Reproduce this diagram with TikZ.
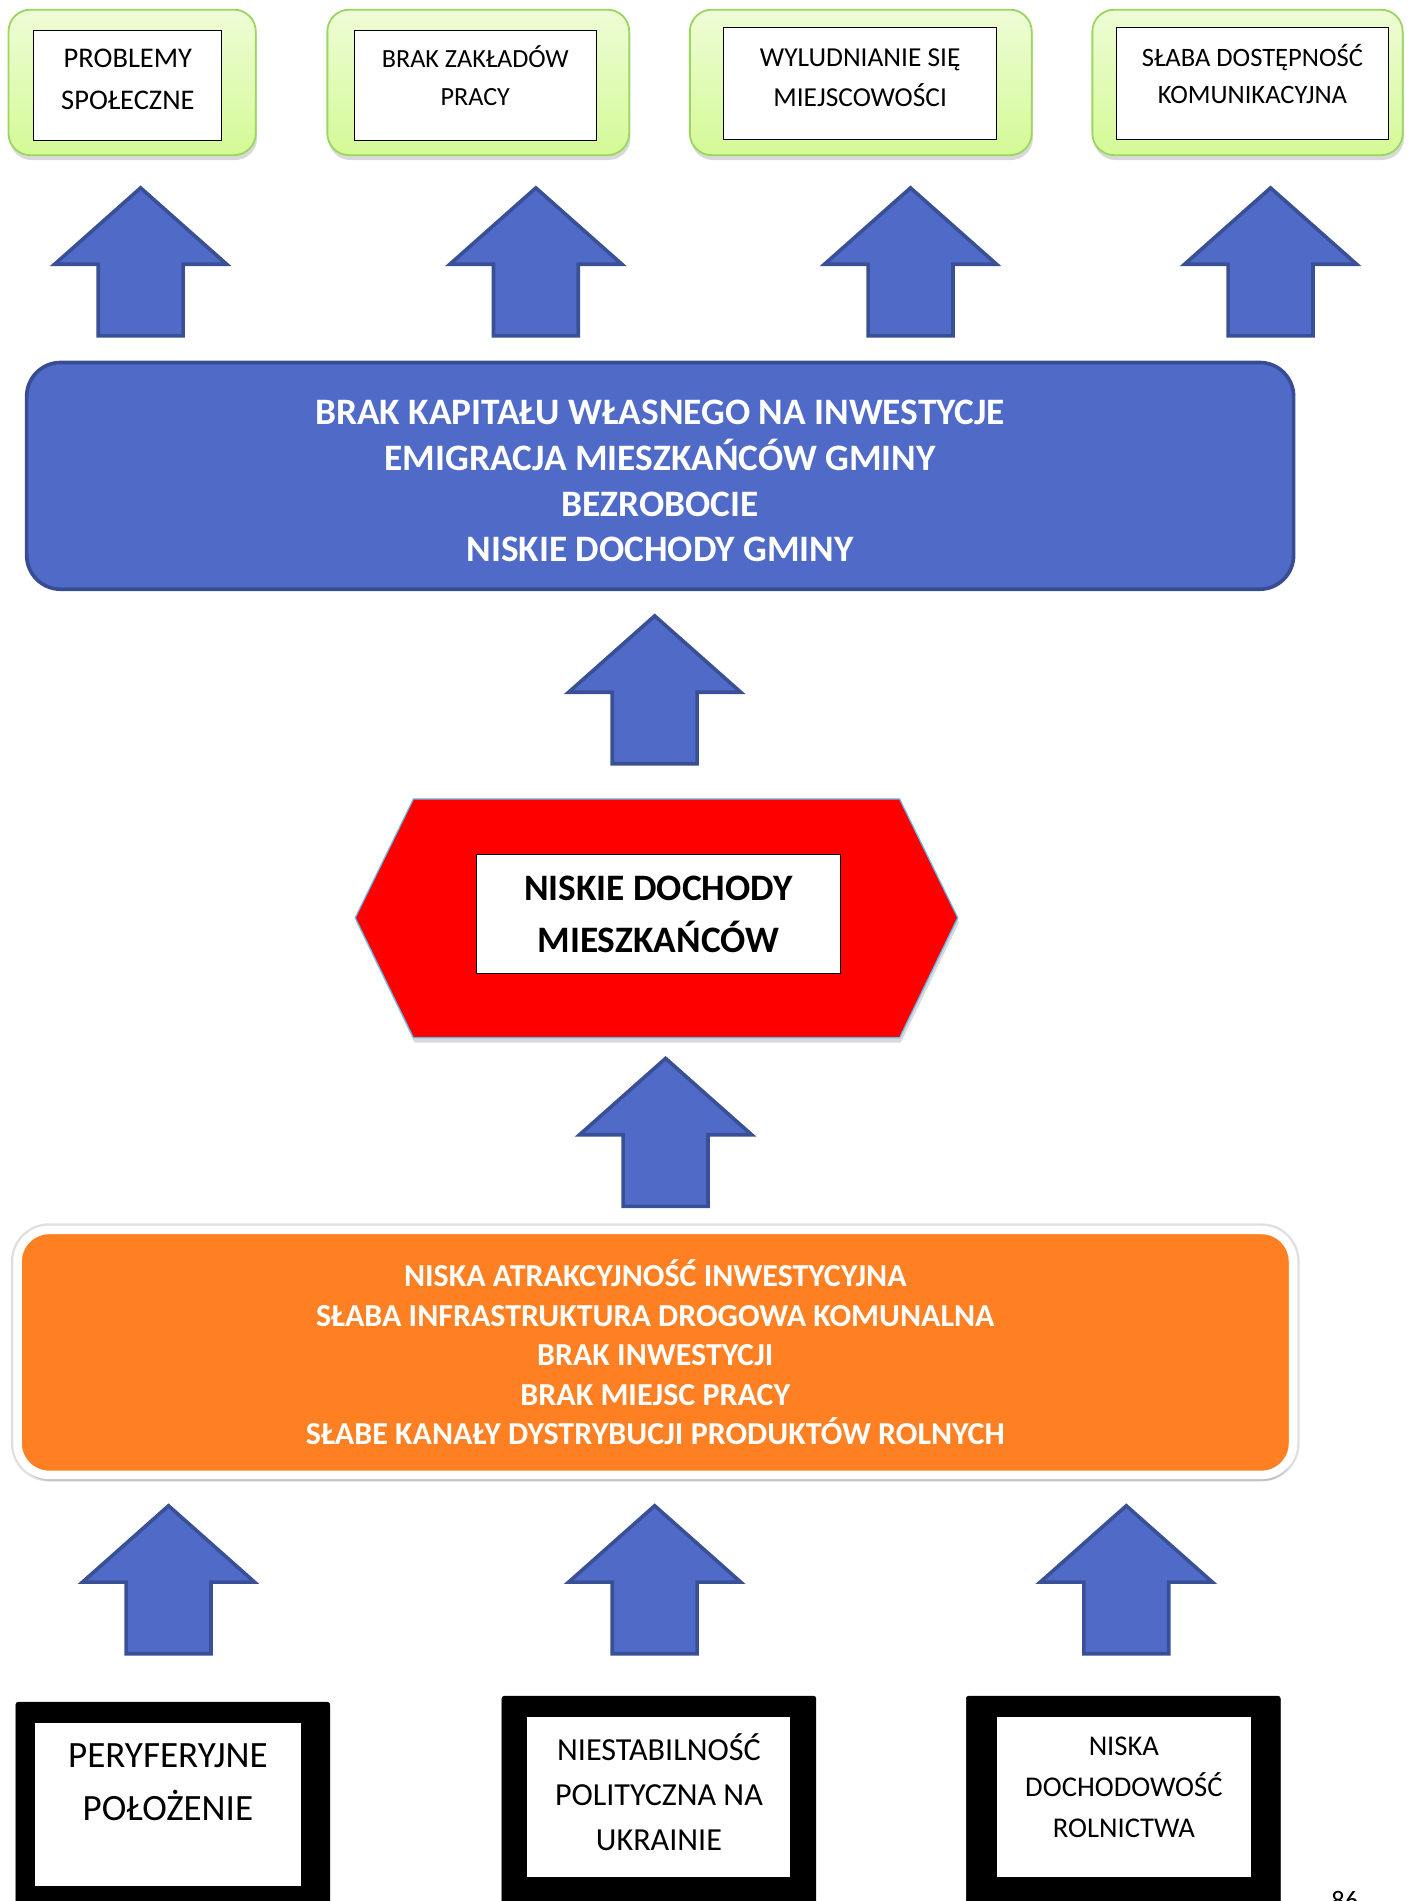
\documentclass[tikz,border=0pt]{standalone}
\usepackage{fontspec}
\setmainfont{Carlito}
\usetikzlibrary{shadows}

\tikzset{
  greenbox/.style={draw=greenedge,line width=1.5pt,rounded corners=18pt,
    top color=greentop,bottom color=greenbottom,inner sep=0pt,
    drop shadow={shadow xshift=1pt,shadow yshift=-4pt,opacity=0.3}},
  whitebox/.style={draw=black,line width=0.8pt,fill=white,inner sep=0pt},
  toptext/.style 2 args={align=center,inner sep=0pt,font=\fontsize{#1}{#2}\selectfont},
  arrowstyle/.style={fill=arrowfill,draw=arrowedge,line width=3pt,line join=miter},
  uparrow/.pic={
    \draw[arrowstyle] (0,0) -- (71,63) -- (35,63) -- (35,122) -- (-35,122)
      -- (-35,63) -- (-71,63) -- cycle;
  },
  bluebox/.style={fill=arrowfill,draw=blueedge,line width=3pt,rounded corners=28pt,
    inner sep=0pt},
  bluetext/.style={align=center,inner sep=0pt,text=white,
    font=\fontsize{30.8}{37.7}\selectfont\bfseries},
  orangebox/.style={fill=orangefill,draw=white,line width=7pt,rounded corners=26pt,
    inner sep=0pt,align=center,text=white,font=\fontsize{26.4}{32.5}\selectfont\bfseries,
    preaction={draw=black!12,line width=11pt},
    drop shadow={shadow xshift=1pt,shadow yshift=-5pt,opacity=0.3}},
  blackframe/.style={fill=black,draw=black,rounded corners=2pt,inner sep=0pt},
  innerwhite/.style={fill=white,inner sep=0pt},
}

\begin{document}
\begin{tikzpicture}[x=1pt,y=-1pt]
\definecolor{greenedge}{RGB}{155,215,95}
\definecolor{greentop}{RGB}{238,252,214}
\definecolor{greenbottom}{RGB}{212,250,150}
\definecolor{arrowfill}{RGB}{80,106,200}
\definecolor{arrowedge}{RGB}{58,80,150}
\definecolor{blueedge}{RGB}{56,76,148}
\definecolor{orangefill}{RGB}{255,128,34}
\definecolor{hexedge}{RGB}{95,190,235}
\useasboundingbox (0,0) rectangle (1165,1568);
\node[greenbox,minimum width=204pt,minimum height=120pt] (g1) at (109,68) {};
\node[greenbox,minimum width=249pt,minimum height=120pt] (g2) at (394.5,68) {};
\node[greenbox,minimum width=282pt,minimum height=120pt] (g3) at (710,68) {};
\node[greenbox,minimum width=256pt,minimum height=120pt] (g4) at (1029,68) {};
\node[whitebox,minimum width=155pt,minimum height=91pt] (w1) at (105.5,70.5) {};
\node[whitebox,minimum width=200pt,minimum height=91pt] (w2) at (392,70.5) {};
\node[whitebox,minimum width=225pt,minimum height=92pt] (w3) at (709.5,69) {};
\node[whitebox,minimum width=224pt,minimum height=92pt] (w4) at (1033,69) {};
\node[toptext={23.5}{34}] (t1) at (w1.center) [yshift=5pt] {PROBLEMY\\SPOŁECZNE};
\node[toptext={21.6}{31}] (t2) at (w2.center) [yshift=8pt] {BRAK ZAKŁADÓW\\PRACY};
\node[toptext={22.6}{33}] (t3) at (w3.center) [yshift=5pt] {WYLUDNIANIE SIĘ\\MIEJSCOWOŚCI};
\node[toptext={21.9}{31}] (t4) at (w4.center) [yshift=8pt] {SŁABA DOSTĘPNOŚĆ\\KOMUNIKACYJNA};
\pic at (116,155) {uparrow};
\pic at (442,155) {uparrow};
\pic at (751,155) {uparrow};
\pic at (1048,155) {uparrow};
\node[bluebox,minimum width=1045pt,minimum height=187pt] (skutki) at (544.5,392.5) {};
\node[bluetext] (skutkitekst) at (544.5,397)
  {BRAK KAPITAŁU WŁASNEGO NA INWESTYCJE\\EMIGRACJA MIESZKAŃCÓW GMINY\\BEZROBOCIE\\NISKIE DOCHODY GMINY};
\pic at (540,508) {uparrow};
\draw[fill=red,draw=hexedge,line width=1pt,drop shadow={shadow xshift=1pt,shadow yshift=-4pt,opacity=0.3}]
  (293,757) -- (341,659) -- (742,659) -- (790,757) -- (742,856) -- (341,856) -- cycle;
\node[whitebox,minimum width=300pt,minimum height=98pt,align=center,
  font=\fontsize{30.8}{43}\selectfont\bfseries] (problem) at (543,754) {NISKIE DOCHODY\\MIESZKAŃCÓW};
\pic at (549,873) {uparrow};
\node[orangebox,minimum width=1052pt,minimum height=202pt] (przyczyny) at (540.5,1115.5)
  {NISKA ATRAKCYJNOŚĆ INWESTYCYJNA\\SŁABA INFRASTRUKTURA DROGOWA KOMUNALNA\\BRAK INWESTYCJI\\BRAK MIEJSC PRACY\\SŁABE KANAŁY DYSTRYBUCJI PRODUKTÓW ROLNYCH};
\pic at (139,1242) {uparrow};
\pic at (540,1242) {uparrow};
\pic at (929,1242) {uparrow};
\node[blackframe,minimum width=259pt,minimum height=196pt] (b1) at (142.5,1502) {};
\node[blackframe,minimum width=259pt,minimum height=201pt] (b2) at (543.5,1499.5) {};
\node[blackframe,minimum width=259pt,minimum height=201pt] (b3) at (926.5,1499.5) {};
\node[innerwhite,minimum width=219pt,minimum height=135pt] (i1) at (138.5,1488.5) {};
\node[innerwhite,minimum width=217pt,minimum height=132pt] (i2) at (543.5,1482) {};
\node[innerwhite,minimum width=210pt,minimum height=132pt] (i3) at (927,1482) {};
\node[toptext={30.6}{43}] (r1) at (138.5,1470) {PERYFERYJNE\\POŁOŻENIE};
\node[toptext={26.5}{37}] (r2) at (543.5,1478) {NIESTABILNOŚĆ\\POLITYCZNA NA\\UKRAINIE};
\node[toptext={23.6}{34}] (r3) at (927,1474) {NISKA\\DOCHODOWOŚĆ\\ROLNICTWA};
\node[inner sep=0pt,anchor=north west,font=\fontsize{22}{26}\selectfont] (strona) at (1098,1560) {86};
\end{tikzpicture}
\end{document}
